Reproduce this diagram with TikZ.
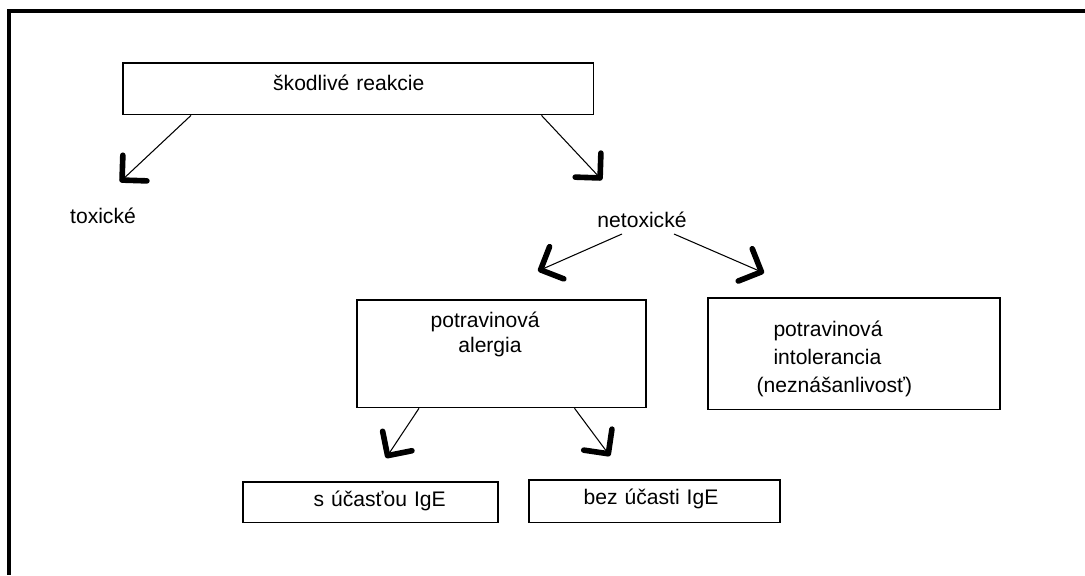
\documentclass[tikz,border=0pt]{standalone}
\usepackage{fontspec}
\setmainfont{Liberation Sans}
\usetikzlibrary{arrows.meta}
\begin{document}
\begin{tikzpicture}[x=0.02cm,y=-0.02cm]
	\tikzset{b/.style={draw=black, line width=0.9pt, inner sep=0pt, align=left, anchor=north west, font=\fontsize{12}{14}\selectfont},
		t/.style={anchor=base, font=\fontsize{12}{14}\selectfont},
		f/.style={-{Straight Barb[length=10pt,width=20pt,line width=3.2pt,round]}, line width=0.6pt}};
	\useasboundingbox (0,0) rectangle (1085,575);
	\draw[line width=2pt] (1085,11) -- (9,11) -- (9,575);

	\node[b, text width=9.42cm, text height=15.9pt, text depth=13.6pt] (sr) at (122,62) {\hspace*{85.6pt}škodlivé reakcie};
	\node[t] (tx) at (103,223) {toxické};
	\node[t] (ntx) at (642,227) {netoxické};
	\node[b, text width=5.78cm, text height=15.9pt, text depth=45.4pt] (pa) at (356,299) {\hspace*{42pt}potravinová\\\hspace*{57.8pt}alergia};
	\node[b, text width=5.84cm, text height=22.1pt, text depth=41.4pt] (pi) at (707,297) {\hspace*{37.4pt}potravinová\\[1.8pt]\hspace*{37.4pt}intolerancia\\[1.8pt]\hspace*{27.8pt}(neznášanlivosť)};
	\node[b, text width=5.1cm, text height=14pt, text depth=9.2pt] (sie) at (242,481) {\hspace*{40.3pt}s účasťou IgE};
	\node[b, text width=5.02cm, text height=14.2pt, text depth=10.2pt] (bie) at (528,479) {\hspace*{31.2pt}bez účasti IgE};

	\draw[f] ([shift={(69,0)}]sr.south west) -- ([shift={(17,-41)}]tx.base);
	\draw[f] ([shift={(-53,0)}]sr.south east) -- ([shift={(-40,-47)}]ntx.base);
	\draw[f] ([shift={(-20,7)}]ntx.base) -- ([shift={(182,-28)}]pa.north west);
	\draw[f] ([shift={(32,7)}]ntx.base) -- ([shift={(57,-24)}]pi.north west);
	\draw[f] ([shift={(63,0)}]pa.south west) -- ([shift={(144,-23)}]sie.north west);
	\draw[f] ([shift={(-72,0)}]pa.south east) -- ([shift={(82,-23)}]bie.north west);
\end{tikzpicture}
\end{document}
